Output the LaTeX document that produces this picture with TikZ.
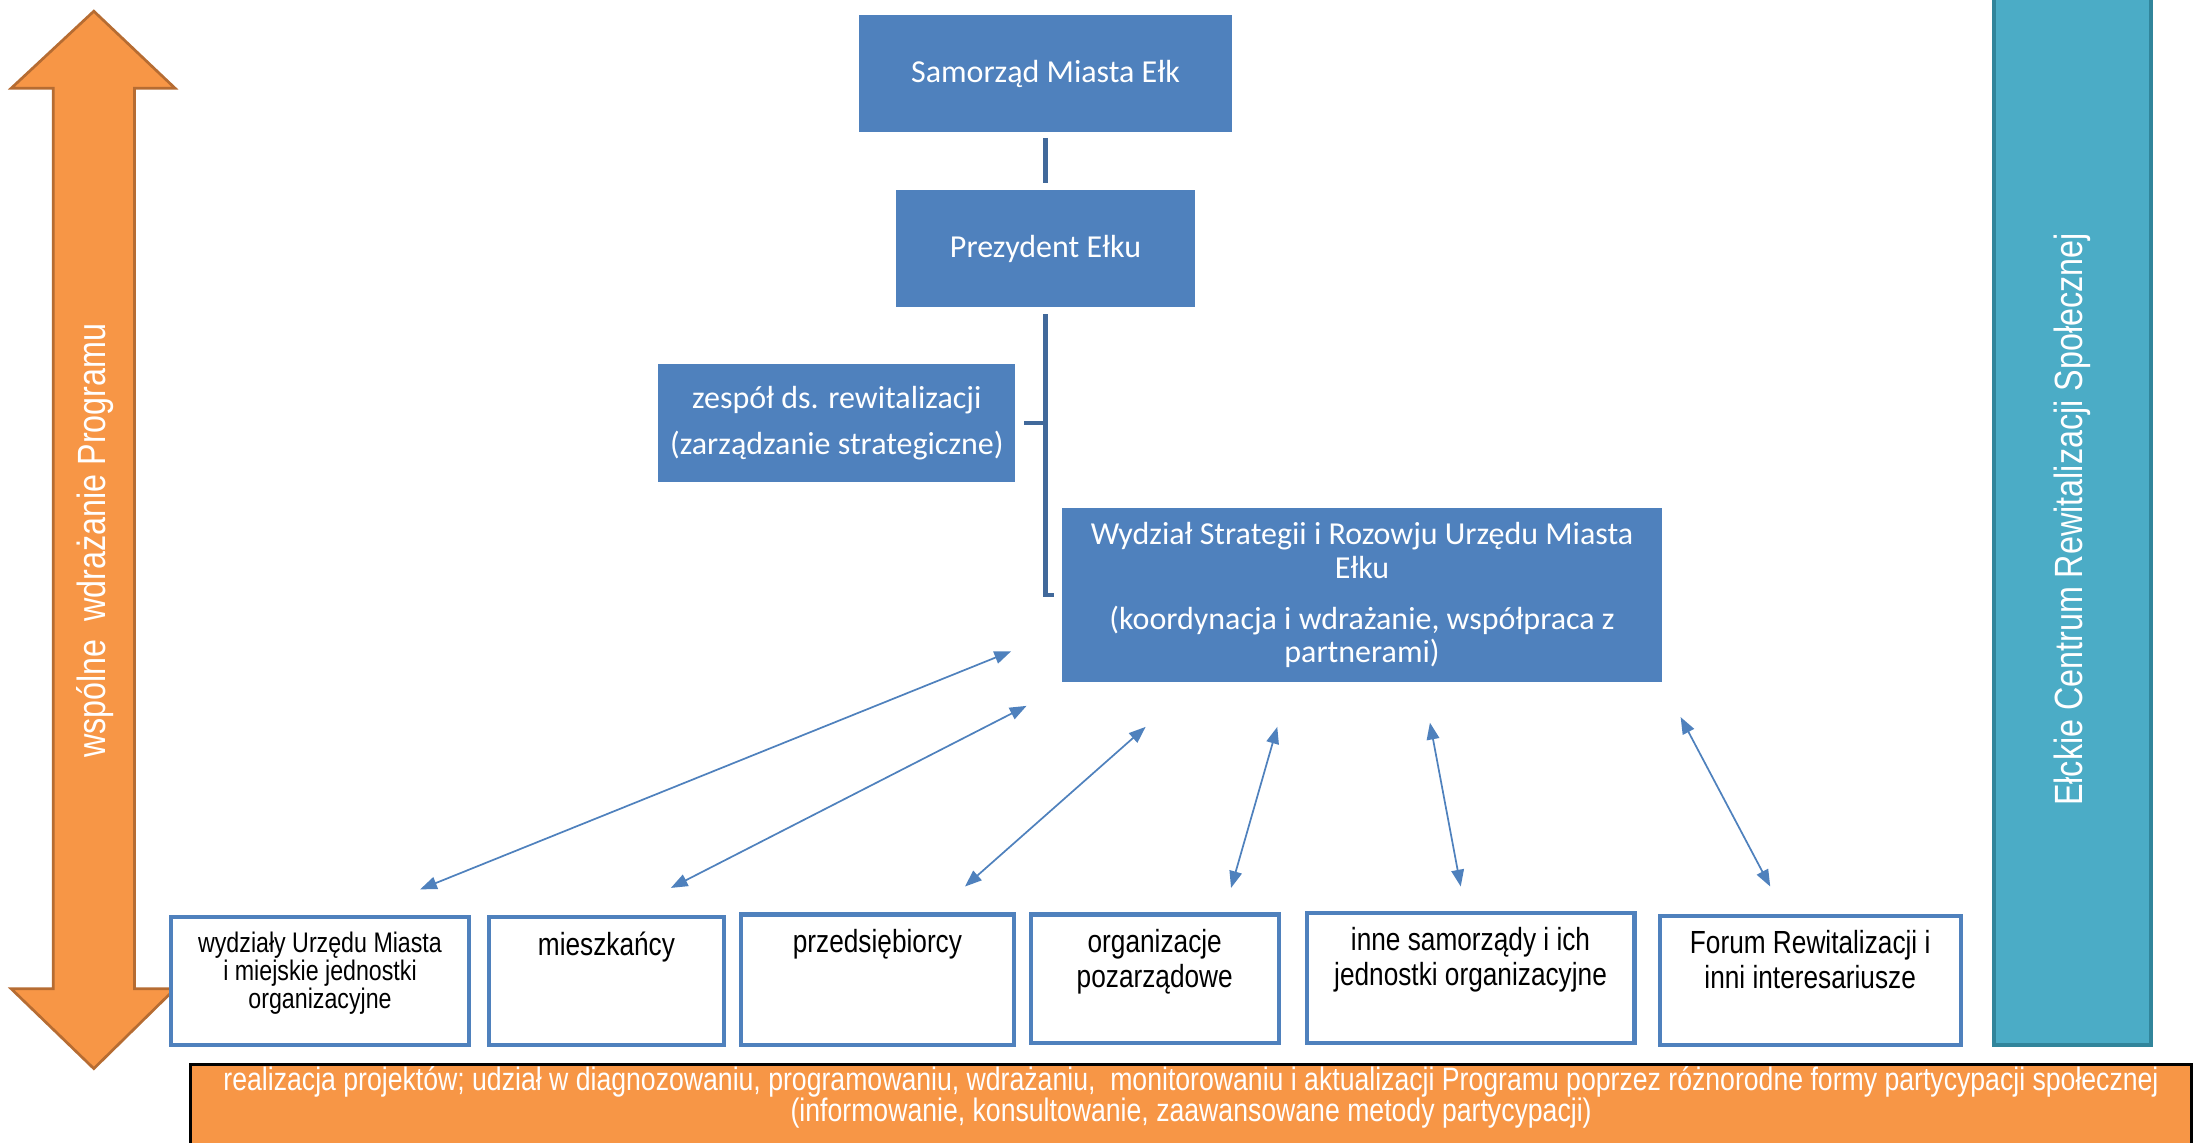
\documentclass[tikz,border=0pt]{standalone}
\usepackage{fontspec}
\setmainfont{Carlito}
\newfontfamily\waskie[FakeStretch=0.82]{Liberation Sans}
\usetikzlibrary{arrows.meta,calc,positioning}
\definecolor{orgblue}{RGB}{79,129,189}
\definecolor{orgline}{RGB}{65,105,155}
\definecolor{progorange}{RGB}{247,150,70}
\definecolor{progbrown}{RGB}{182,108,50}
\definecolor{ercteal}{RGB}{75,172,198}
\definecolor{ercdark}{RGB}{49,133,155}

\begin{document}
\begin{tikzpicture}[x=0.2mm,y=-0.2mm,>={Triangle[length=2.4mm,width=1.8mm]},
  orgbox/.style={fill=orgblue,text=white,inner sep=0pt,align=center,
    font=\fontsize{13}{13.7}\selectfont},
  orgconn/.style={draw=orgline,line width=1.7pt},
  partner/.style={draw=orgblue,line width=1.7pt,fill=white,inner sep=0pt},
  ptext/.style={align=center,inner sep=0pt,font=\waskie\fontsize{13}{14.2}\selectfont},
  link/.style={<->,draw=orgblue,line width=0.7pt},
  pionowy/.style={rotate=90,text=white,inner sep=0pt,font=\waskie\fontsize{16}{18}\selectfont}]

  \useasboundingbox (0,0) rectangle (1568,816);

  % strzalka po lewej
  \draw[fill=progorange,draw=progbrown,line width=1.1pt]
    (67,8) -- (125,63) -- (96,63) -- (96,706) -- (125,706) -- (67,763)
    -- (8,706) -- (38,706) -- (38,63) -- (8,63) -- cycle;
  \node[pionowy] (wdr) at (68,386) {wspólne\ \ wdrażanie Programu};

  % schemat organizacyjny
  \node[orgbox,minimum width=53.4mm,minimum height=16.6mm] (sam) at (746.5,52.5)
    {Samorząd Miasta Ełk};
  \node[orgbox,minimum width=42.6mm,minimum height=16.6mm] (prez) at (746.5,177.5)
    {Prezydent Ełku};
  \node[orgbox,minimum width=51mm,minimum height=16.8mm] (zesp) at (597.5,302)
    {zespół ds. rewitalizacji\\[1.8mm](zarządzanie strategiczne)};
  \node[orgbox,minimum width=85.8mm,minimum height=24.8mm] (wydz) at (972.5,425)
    {Wydział Strategii i Rozowju Urzędu Miasta\\Ełku\\[2.4mm]
     (koordynacja i wdrażanie, współpraca z\\partnerami)};

  \draw[orgconn,shorten <=0.8mm,shorten >=1mm] (sam) -- (prez);
  \draw[orgconn] ([yshift=-1mm]prez.south) |- ([xshift=-1mm]wydz.west);
  \draw[orgconn] ([xshift=1.2mm]zesp.east) -- (zesp.east -| prez.south);

  % partnerzy
  \node[partner,minimum width=42.6mm,minimum height=18.2mm] (p1) at (228.5,700.5) {};
  \node[partner,minimum width=33.6mm,minimum height=18.2mm] (p2) at (433,700.5) {};
  \node[partner,minimum width=39mm,minimum height=18.6mm] (p3) at (626.5,699.5) {};
  \node[partner,minimum width=35.4mm,minimum height=18.4mm] (p4) at (824.5,699) {};
  \node[partner,minimum width=46.8mm,minimum height=18.6mm] (p5) at (1050,698.5) {};
  \node[partner,minimum width=43mm,minimum height=18.4mm] (p6) at (1292.5,700) {};

  \node[ptext,font=\waskie\fontsize{11.5}{11.4}\selectfont,below=2.3mm of p1.north] (t1)
    {wydziały Urzędu Miasta\\i miejskie jednostki\\organizacyjne};
  \node[ptext,below=2.3mm of p2.north] (t2) {mieszkańcy};
  \node[ptext,below=2.3mm of p3.north] (t3) {przedsiębiorcy};
  \node[ptext,below=2.3mm of p4.north] (t4) {organizacje\\pozarządowe};
  \node[ptext,below=2.3mm of p5.north] (t5) {inne samorządy i ich\\jednostki organizacyjne};
  \node[ptext,below=2.3mm of p6.north] (t6) {Forum Rewitalizacji i\\inni interesariusze};

  % powiazania z wydzialem
  \coordinate (d1) at (300,635);  \coordinate (g1) at (722,465);
  \coordinate (d2) at (479,634);  \coordinate (g2) at (733,504);
  \coordinate (d3) at (689,633);  \coordinate (g3) at (818,519);
  \coordinate (d4) at (879,634);  \coordinate (g4) at (912,519);
  \coordinate (d5) at (1043,633); \coordinate (g5) at (1021,516);
  \coordinate (d6) at (1264,633); \coordinate (g6) at (1200,512);
  \foreach \i in {1,...,6}
    \draw[link] (d\i) -- (g\i);

  % ECRS po prawej
  \node[fill=ercteal,draw=ercdark,line width=1.7pt,inner sep=0pt,
        minimum width=22.4mm,minimum height=151.2mm] (ercs) at (1480,368) {};
  \node[pionowy] (ercst) at (1480,371) {Ełckie Centrum Rewitalizacji Społecznej};

  % pasek na dole
  \node[fill=progorange,draw=black,line width=1.1pt,inner sep=0pt,
        minimum width=285.8mm,minimum height=14mm] (pasek) at (850.5,795) {};
  \node[align=center,text=white,inner sep=0pt,font=\waskie\fontsize{13.2}{12.6}\selectfont,
        below=0.5mm of pasek.north] (opis)
    {realizacja projektów; udział w diagnozowaniu, programowaniu, wdrażaniu,\ \ monitorowaniu i aktualizacji Programu poprzez różnorodne formy partycypacji społecznej\\
     (informowanie, konsultowanie, zaawansowane metody partycypacji)};
\end{tikzpicture}
\end{document}
